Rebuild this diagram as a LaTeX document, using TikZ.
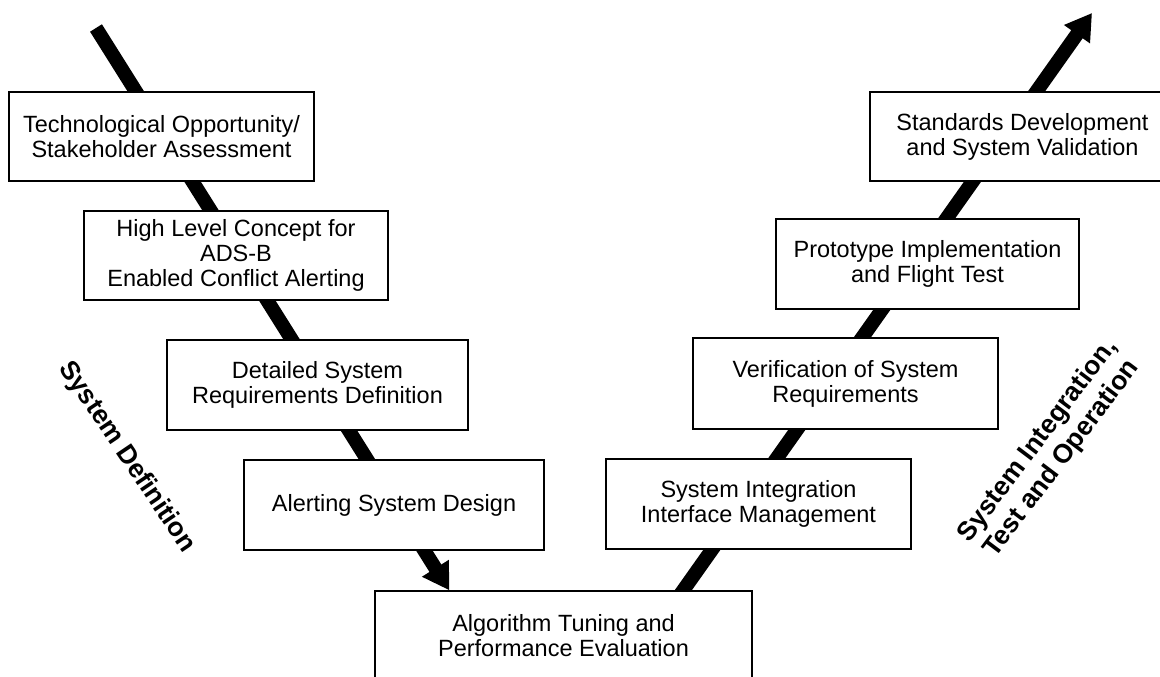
\documentclass[tikz,border=0pt]{standalone}
\usepackage{fontspec}
\setmainfont{Liberation Sans}
\usetikzlibrary{arrows.meta,backgrounds,calc}

\tikzset{
  stage/.style={draw=black, line width=1.5pt, fill=white, align=center,
    inner sep=0pt, font=\fontsize{23.5pt}{25pt}\selectfont},
  phase/.style={align=center, font=\bfseries\fontsize{26.5pt}{30pt}\selectfont},
  vbar/.style={line width=14pt, black},
  vhead/.style={-{Triangle[length=26pt,width=30pt]}}
}

\begin{document}
\begin{tikzpicture}[x=1pt,y=-1pt]
\useasboundingbox (0,0) rectangle (1160,677);
\clip (0,0) rectangle (1160,677);

% left branch of the V
\node[stage, minimum width=305pt, minimum height=89pt] (tech) at (161.5,136.5)
  {Technological Opportunity/\\Stakeholder Assessment};
\node[stage, minimum width=304pt, minimum height=89pt] (hlc) at (236,255.5)
  {High Level Concept for\\ADS-B\\Enabled Conflict Alerting};
\node[stage, minimum width=301pt, minimum height=90pt] (det) at (317.5,385)
  {Detailed System\\Requirements Definition};
\node[stage, minimum width=300pt, minimum height=90pt] (alert) at (394,505)
  {Alerting System Design};

% bottom of the V
\node[stage, minimum width=377pt, minimum height=90pt] (algo) at (563.5,636)
  {Algorithm Tuning and\\Performance Evaluation};

% right branch of the V
\node[stage, minimum width=305pt, minimum height=90pt] (sint) at (758.5,504)
  {System Integration\\Interface Management};
\node[stage, minimum width=305pt, minimum height=91pt] (ver) at (845.5,383.5)
  {Verification of System\\Requirements};
\node[stage, minimum width=303pt, minimum height=90pt] (proto) at (927.5,264)
  {Prototype Implementation\\and Flight Test};
\node[stage, minimum width=305pt, minimum height=89pt] (std) at (1022.5,136.5)
  {Standards Development\\and System Validation};

% phase labels
\node[phase, rotate=-56] (defn) at (127,457) {System Definition};
\node[phase, rotate=53] (integ) at (1050,450)
  {System Integration,\\Test and Operation};

% ends of the two thick arrows
\coordinate (ltop) at (96,28);
\coordinate (ltip) at ($(algo.north west)+(75pt,0)$);
\coordinate (rbase) at ($(algo.north west)+(309pt,0)$);
\coordinate (rtip) at (1092,13);
\coordinate (rstart) at ($(rbase)!-30pt!(rtip)$);

\begin{scope}[on background layer]
  \fill[white] (0,0) rectangle (1160,677);
  \draw[vbar, vhead] (ltop) -- (ltip);
  \draw[vbar, vhead] (rstart) -- (rtip);
\end{scope}
\end{tikzpicture}
\end{document}
